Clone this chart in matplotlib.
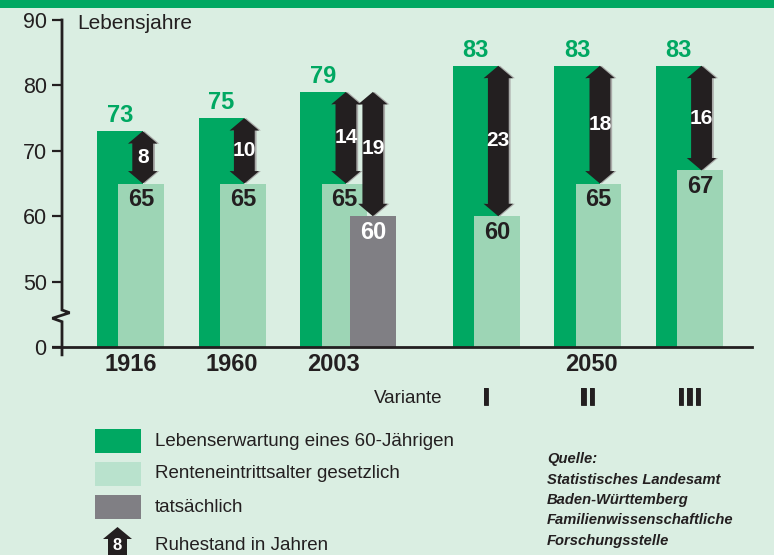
import matplotlib.pyplot as plt
import matplotlib.patheffects as pe
from matplotlib.patches import Polygon, Rectangle

plt.rcParams["font.family"] = ["Liberation Sans", "DejaVu Sans"]

# data
years = ["1916", "1960", "2003", "2050"]
variants = ["I", "II", "III"]
group_pos = [0, 1, 2, 3.5, 4.5, 5.5]
life_exp = [73, 75, 79, 83, 83, 83]
legal_age = [65, 65, 65, 60, 65, 67]
retire_legal = [8, 10, 14, 23, 18, 16]
actual_age_2003 = 60
retire_actual_2003 = 19
y_ticks = [0, 50, 60, 70, 80, 90]

legend_labels = [
    "Lebenserwartung eines 60-Jährigen",
    "Renteneintrittsalter gesetzlich",
    "tatsächlich",
    "Ruhestand in Jahren",
]
source_lines = [
    "Quelle:",
    "Statistisches Landesamt",
    "Baden-Württemberg",
    "Familienwissenschaftliche",
    "Forschungsstelle",
]

BG = "#daeee2"
GREEN = "#00a862"
LIGHT = "#9dd5b5"
LIGHT_LEG = "#b9e2cd"
GRAY = "#807f84"
BLACK = "#231f20"

W, H = 774, 555
BREAK = 40  # values above the axis break are shifted down by this


def disp(v):
    return v - BREAK if v >= 50 else v


def arrow(ax, xc, top, bottom, shaft=0.205, head=0.29, hl=1.9):
    t, b = disp(top), disp(bottom)
    pts = [
        (xc, t), (xc + head / 2, t - hl), (xc + shaft / 2, t - hl),
        (xc + shaft / 2, b + hl), (xc + head / 2, b + hl), (xc, b),
        (xc - head / 2, b + hl), (xc - shaft / 2, b + hl),
        (xc - shaft / 2, t - hl), (xc - head / 2, t - hl),
    ]
    shadow = [(x + 0.018, y) for x, y in pts]
    ax.add_patch(Polygon(shadow, closed=True, color="#a9aaa8", lw=0, zorder=4))
    ax.add_patch(Polygon(pts, closed=True, color=BLACK, lw=0, zorder=5))


fig = plt.figure(figsize=(W / 100, H / 100), dpi=100)
fig.patch.set_facecolor(BG)
fig.add_artist(Rectangle((0, 1 - 8 / H), 1, 8 / H, transform=fig.transFigure,
                         color=GREEN, lw=0))

ax = fig.add_axes([62 / W, (H - 347) / H, (W - 62) / W, (347 - 8) / H])
ax.set_facecolor("none")
px = 101.6
ax.set_xlim((62 - 97) / px, (W - 97) / px)
ax.set_ylim(0, (347 - 8) / 6.54)
for s in ax.spines.values():
    s.set_visible(False)
ax.set_xticks([])
ax.set_yticks([disp(v) for v in y_ticks])
ax.set_yticklabels([str(v) for v in y_ticks], fontsize=15.5, color=BLACK)
ax.tick_params(axis="y", length=7, width=1.6, color=BLACK, pad=4)

bw = 0.45
lo = 0.21
ax.bar(group_pos, [disp(v) for v in life_exp], width=bw, align="edge",
       color=GREEN, zorder=2)
ax.bar([p + lo for p in group_pos], [disp(v) for v in legal_age], width=bw,
       align="edge", color=LIGHT, zorder=2)
ax.bar(group_pos[2] + 0.49, disp(actual_age_2003), width=bw, align="edge",
       color=GRAY, zorder=3)

for p, le, la, r in zip(group_pos, life_exp, legal_age, retire_legal):
    ax.text(p + bw / 2, disp(le) + 0.6, str(le), ha="center", va="bottom",
            color=GREEN, fontsize=17, weight="bold")
    ax.text(p + lo + bw / 2, disp(la) - 2.5, str(la), ha="center", va="center",
            color=BLACK, fontsize=17, weight="bold", zorder=6)
    arrow(ax, p + bw, le, la)
    ax.text(p + bw, (disp(le) + disp(la)) / 2, str(r), ha="center",
            va="center", color="white", fontsize=15, weight="bold", zorder=7)

# 2003 actual retirement
xg = group_pos[2] + 0.49 + bw / 2
ax.text(xg, disp(actual_age_2003) - 2.5, str(actual_age_2003), ha="center",
        va="center", color="white", fontsize=17, weight="bold", zorder=6)
arrow(ax, xg, life_exp[2], actual_age_2003)
ax.text(xg, (disp(life_exp[2]) + disp(actual_age_2003)) / 2 + 0.9,
        str(retire_actual_2003), ha="center", va="center", color="white",
        fontsize=15, weight="bold", zorder=7)

# axes with break
x_ax = ax.get_xlim()[0]
z = [0.0, 0.075, -0.095, 0.0]
ax.plot([x_ax + z[0], x_ax + z[0], x_ax + z[1], x_ax + z[2], x_ax + z[3],
         x_ax + z[3]],
        [disp(90), 5.66, 5.24, 4.39, 3.87, -1.2],
        color=BLACK, lw=2, clip_on=False, zorder=8, solid_joinstyle="miter")
ax.plot([x_ax - 0.09, (752 - 97) / px], [0, 0], color=BLACK, lw=2,
        clip_on=False, zorder=8)

ax.text(x_ax + 0.15, disp(90) - 0.6, "Lebensjahre", ha="left", va="center",
        fontsize=15, color=BLACK)

# x labels
for p, y in zip(group_pos[:3], years[:3]):
    ax.text(p + (bw + lo) / 2, -2.6, y, ha="center", va="center",
            fontsize=17, weight="bold", color=BLACK)
ax.text((group_pos[3] + group_pos[5] + bw + lo) / 2 + 0.04, -2.6, years[3],
        ha="center", va="center", fontsize=17, weight="bold", color=BLACK)
ax.text(group_pos[3] - 0.1, -7.8, "Variante", ha="right", va="center",
        fontsize=13.5, color=BLACK)
for p, v in zip(group_pos[3:], variants):
    ax.text(p + (bw + lo) / 2, -7.8, v, ha="center", va="center",
            fontsize=16.5, weight="bold", color=BLACK, family="DejaVu Sans",
            path_effects=[pe.withStroke(linewidth=0.6, foreground=BLACK)])

# legend
colors = [GREEN, LIGHT_LEG, GRAY]
for i, (c, lab) in enumerate(zip(colors, legend_labels[:3])):
    ytop = 429 + i * 33
    fig.add_artist(Rectangle((95 / W, 1 - (ytop + 24) / H), 46 / W, 24 / H,
                             transform=fig.transFigure, color=c, lw=0))
    fig.text(155 / W, 1 - (ytop + 12) / H, lab, ha="left", va="center",
             fontsize=13.5, color=BLACK)

# legend arrow icon
icon = [(117.5, 527), (132, 539), (127, 539), (127, 560), (108, 560),
        (108, 539), (103, 539)]
fig.add_artist(Polygon([(x / W, 1 - y / H) for x, y in icon], closed=True,
                       transform=fig.transFigure, color=BLACK, lw=0))
fig.text(117.5 / W, 1 - 546 / H, str(retire_legal[0]), ha="center",
         va="center", color="white", fontsize=12, weight="bold")
fig.text(155 / W, 1 - 545 / H, legend_labels[3], ha="left", va="center",
         fontsize=13.5, color=BLACK)

for i, line in enumerate(source_lines):
    fig.text(547 / W, 1 - (459 + i * 20.5) / H, line, ha="left", va="center",
             fontsize=10.6, weight="bold", style="italic", color=BLACK)

fig.savefig("out.png", dpi=100, facecolor=BG)
